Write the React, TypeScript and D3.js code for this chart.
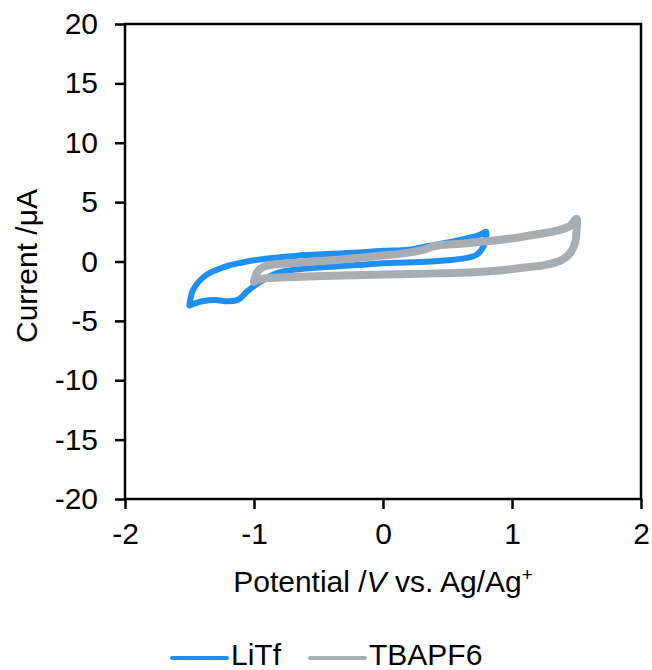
import { useEffect, useRef } from "react";
import * as d3 from "d3";

// LiTf cycle: potential (V) and current (uA), anodic sweep then return
const litfV = [-1.5, -1.48, -1.45, -1.4, -1.35, -1.3, -1.2, -1.1, -1.0, -0.8, -0.6, -0.4, -0.2, 0.0, 0.2, 0.35, 0.5, 0.65, 0.75, 0.8,
  0.8, 0.78, 0.73, 0.65, 0.5, 0.3, 0.1, 0.0, -0.2, -0.4, -0.6, -0.8, -0.95, -1.05, -1.12, -1.2, -1.3, -1.4, -1.5];
const litfI = [-3.6, -2.6, -2.0, -1.4, -1.0, -0.75, -0.35, -0.1, 0.1, 0.35, 0.55, 0.65, 0.75, 0.9, 1.0, 1.3, 1.6, 1.95, 2.25, 2.5,
  2.1, 1.3, 0.6, 0.3, 0.1, -0.05, -0.1, -0.15, -0.3, -0.45, -0.6, -0.9, -1.7, -2.5, -3.2, -3.35, -3.25, -3.35, -3.7];

// TBAPF6 cycle
const tbaV = [-1.0, -0.98, -0.95, -0.9, -0.8, -0.6, -0.4, -0.2, 0.0, 0.2, 0.3, 0.4, 0.6, 0.8, 1.0, 1.2, 1.35, 1.45, 1.5,
  1.5, 1.49, 1.45, 1.38, 1.25, 1.1, 0.9, 0.7, 0.4, 0.0, -0.4, -0.7, -0.9, -0.97, -1.0];
const tbaI = [-1.7, -1.0, -0.6, -0.35, -0.2, -0.05, 0.1, 0.3, 0.5, 0.75, 0.95, 1.3, 1.5, 1.7, 1.95, 2.3, 2.6, 3.0, 3.6,
  2.6, 1.6, 0.7, 0.1, -0.3, -0.5, -0.75, -0.9, -1.0, -1.1, -1.2, -1.3, -1.4, -1.55, -1.7];

const xTicks = [-2, -1, 0, 1, 2];
const yTicks = [20, 15, 10, 5, 0, -5, -10, -15, -20];

const seriesNames = ["LiTf", "TBAPF6"];
const seriesColors = ["#1e8ff5", "#a7adb0"];

const font = "'Liberation Sans', Arial, sans-serif";

function App() {
  const ref = useRef<SVGSVGElement>(null);

  useEffect(() => {
    const svg = d3.select(ref.current);
    svg.selectAll("*").remove();

    const left = 125, right = 641, top = 24, bottom = 499;
    const x = d3.scaleLinear().domain([-2, 2]).range([left, right]);
    const y = d3.scaleLinear().domain([-20, 20]).range([bottom, top]);

    const line = d3.line<[number, number]>()
      .x(d => x(d[0]))
      .y(d => y(d[1]))
      .curve(d3.curveCatmullRom.alpha(0.5));

    const litf: [number, number][] = litfV.map((v, i) => [v, litfI[i]]);
    const tba: [number, number][] = tbaV.map((v, i) => [v, tbaI[i]]);

    svg.append("path").attr("d", line(litf))
      .attr("fill", "none").attr("stroke", seriesColors[0])
      .attr("stroke-width", 6).attr("stroke-linejoin", "round").attr("stroke-linecap", "round");
    svg.append("path").attr("d", line(tba))
      .attr("fill", "none").attr("stroke", seriesColors[1])
      .attr("stroke-width", 8).attr("stroke-linejoin", "round").attr("stroke-linecap", "round");

    // frame
    svg.append("rect")
      .attr("x", left).attr("y", top)
      .attr("width", right - left).attr("height", bottom - top)
      .attr("fill", "none").attr("stroke", "#000").attr("stroke-width", 2.5);

    const fmt = (d: d3.NumberValue) => String(d);
    const xAxis = svg.append("g")
      .attr("transform", `translate(0,${bottom})`)
      .call(d3.axisBottom(x).tickValues(xTicks).tickSize(10).tickPadding(14).tickFormat(fmt));
    const yAxis = svg.append("g")
      .attr("transform", `translate(${left},0)`)
      .call(d3.axisLeft(y).tickValues(yTicks).tickSize(10).tickPadding(17).tickFormat(fmt));

    [xAxis, yAxis].forEach(g => {
      g.select(".domain").remove();
      g.selectAll(".tick line").attr("stroke", "#000").attr("stroke-width", 2.5);
      g.selectAll(".tick text").attr("font-family", font).attr("font-size", 30).attr("fill", "#000");
    });

    // axis titles
    const xt = svg.append("text")
      .attr("x", 383).attr("y", 592)
      .attr("text-anchor", "middle")
      .attr("font-family", font).attr("font-size", 30);
    xt.append("tspan").text("Potential /");
    xt.append("tspan").attr("font-style", "italic").text("V");
    xt.append("tspan").text(" vs. Ag/Ag");
    xt.append("tspan").attr("font-size", 19).attr("dy", -11).text("+");

    svg.append("text")
      .attr("transform", "translate(37,266) rotate(-90)")
      .attr("text-anchor", "middle")
      .attr("font-family", font).attr("font-size", 30)
      .text("Current /μA");

    // legend
    const legX = [172, 310];
    seriesNames.forEach((name, i) => {
      svg.append("line")
        .attr("x1", legX[i]).attr("x2", legX[i] + 55)
        .attr("y1", 658).attr("y2", 658)
        .attr("stroke", seriesColors[i]).attr("stroke-width", 4).attr("stroke-linecap", "round");
      svg.append("text")
        .attr("x", legX[i] + 59).attr("y", 665)
        .attr("font-family", font).attr("font-size", 30)
        .text(name);
    });
  }, []);

  return (
    <svg ref={ref} width={652} height={670}
      style={{ position: "absolute", left: 0, top: 0, background: "#fff" }} />
  );
}

export default App;
